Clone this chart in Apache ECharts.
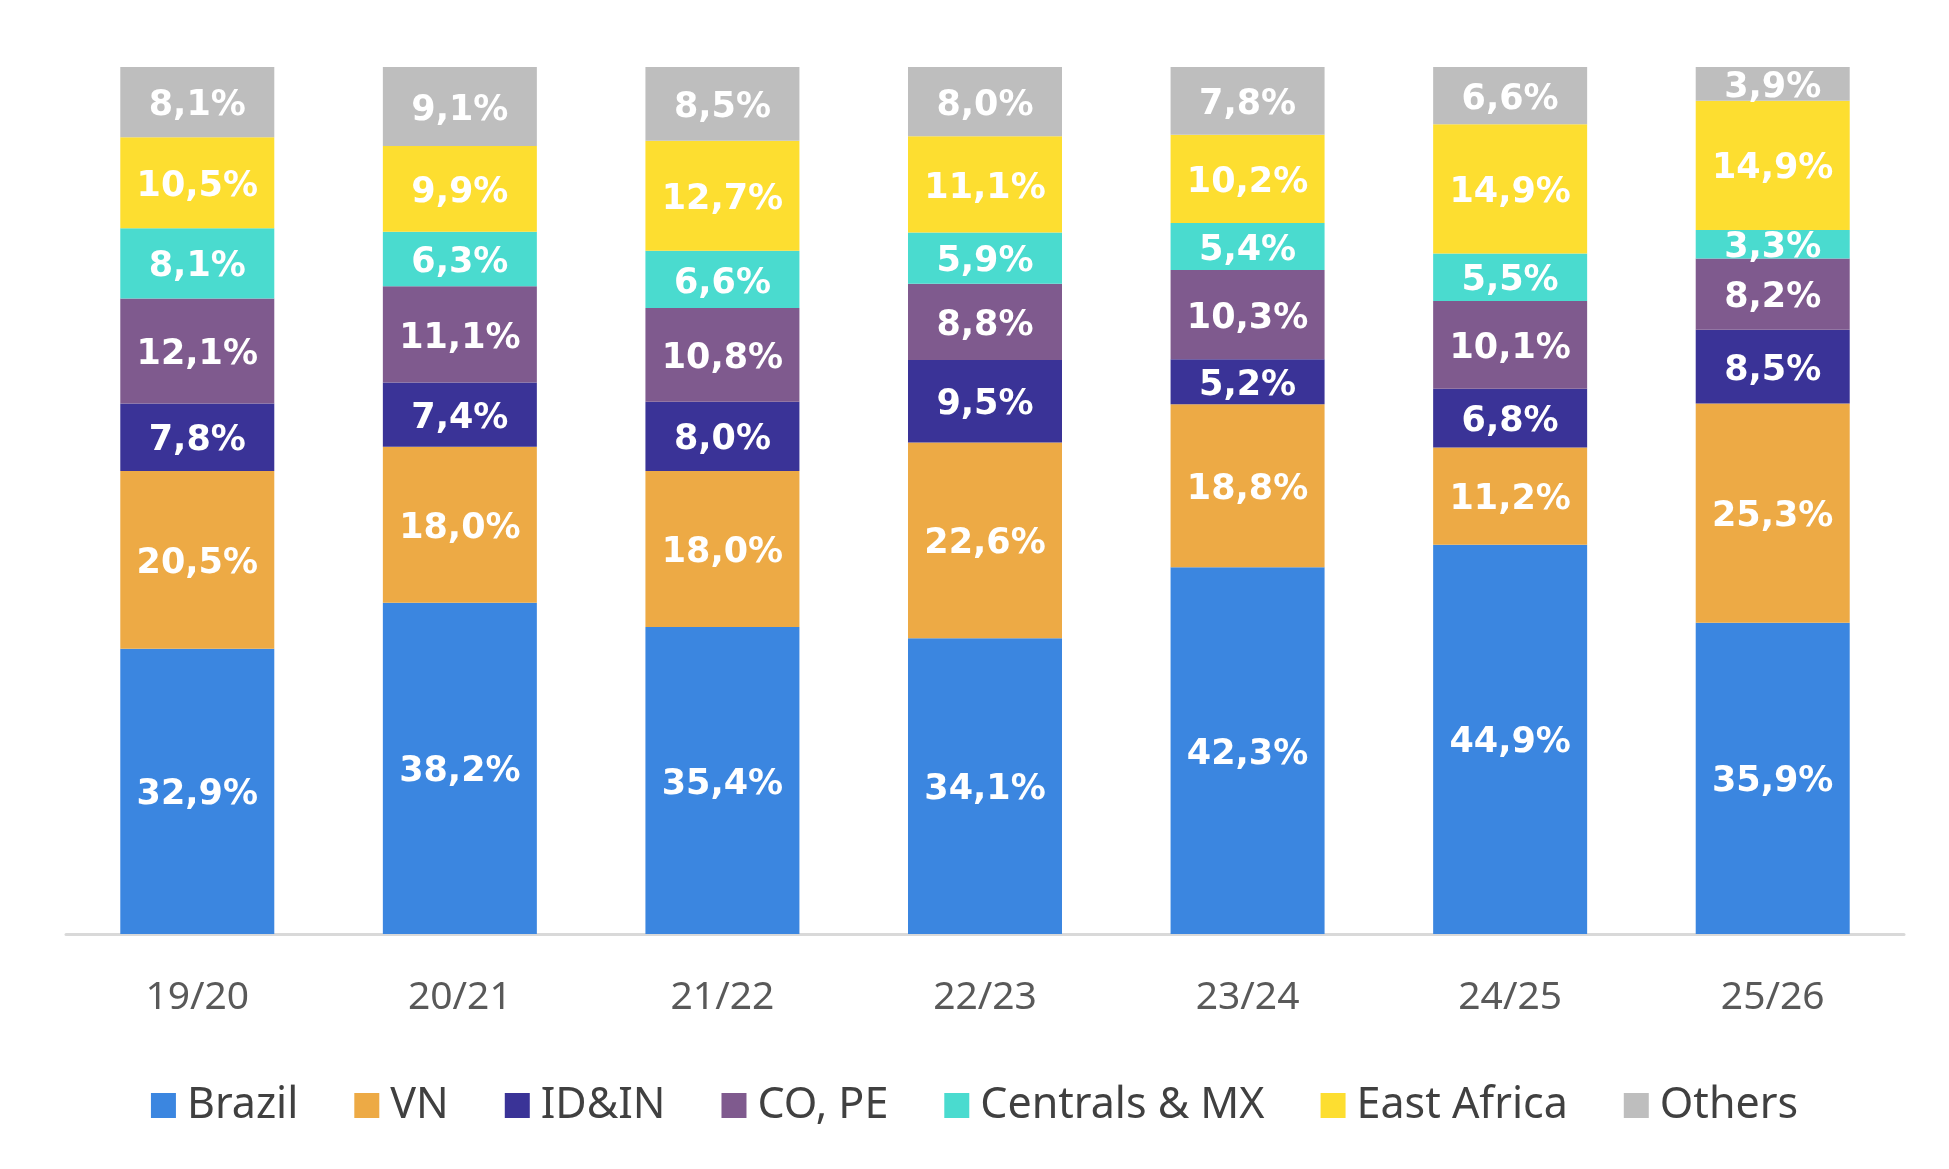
<!DOCTYPE html>
<html>
<head>
<meta charset="utf-8">
<script src="https://cdn.jsdelivr.net/npm/echarts@6/dist/echarts.min.js"></script>
<style>
html,body{margin:0;padding:0;background:#fff;}
#chart{width:1949px;height:1169px;}
</style>
</head>
<body>
<div id="chart"></div>
<script>
const categories = ['19/20','20/21','21/22','22/23','23/24','24/25','25/26'];
const brazil      = [32.9, 38.2, 35.4, 34.1, 42.3, 44.9, 35.9];
const vn          = [20.5, 18.0, 18.0, 22.6, 18.8, 11.2, 25.3];
const idin        = [7.8, 7.4, 8.0, 9.5, 5.2, 6.8, 8.5];
const coPe        = [12.1, 11.1, 10.8, 8.8, 10.3, 10.1, 8.2];
const centralsMx  = [8.1, 6.3, 6.6, 5.9, 5.4, 5.5, 3.3];
const eastAfrica  = [10.5, 9.9, 12.7, 11.1, 10.2, 14.9, 14.9];
const others      = [8.1, 9.1, 8.5, 8.0, 7.8, 6.6, 3.9];

const seriesDefs = [
  ['Brazil', brazil, '#3B86E0'],
  ['VN', vn, '#EDAA45'],
  ['ID&IN', idin, '#3A3397'],
  ['CO, PE', coPe, '#7F5A8E'],
  ['Centrals & MX', centralsMx, '#4ADBCF'],
  ['East Africa', eastAfrica, '#FDDE30'],
  ['Others', others, '#BEBEBE']
];

const chart = echarts.init(document.getElementById('chart'));
chart.setOption({
  animation: false,
  backgroundColor: '#ffffff',
  grid: { left: 66, right: 45, top: 67, bottom: 235 },
  legend: {
    top: 1079,
    left: 'center',
    icon: 'rect',
    itemWidth: 25,
    itemHeight: 25,
    itemGap: 56,
    textStyle: { fontFamily: 'Noto Sans', fontSize: 43, color: '#404040', padding: [0,0,0,6] },
    data: seriesDefs.map(d => d[0])
  },
  xAxis: {
    type: 'category',
    data: categories,
    axisLine: { lineStyle: { color: '#D9D9D9', width: 3 } },
    axisTick: { show: false },
    axisLabel: { margin: 44, fontFamily: 'Noto Sans', fontSize: 39, color: '#595959' }
  },
  yAxis: { type: 'value', min: 0, max: 100, show: false, splitLine: { show: false } },
  series: seriesDefs.map(([name, data, color]) => ({
    name, type: 'bar', stack: 'total', data,
    barWidth: 154,
    itemStyle: { color },
    label: {
      show: true, position: 'inside', offset: [0, 4],
      fontFamily: 'DejaVu Sans', fontWeight: 'bold', fontSize: 35, color: '#ffffff',
      formatter: p => p.value.toFixed(1).replace('.', ',') + '%'
    }
  }))
});
</script>
</body>
</html>
